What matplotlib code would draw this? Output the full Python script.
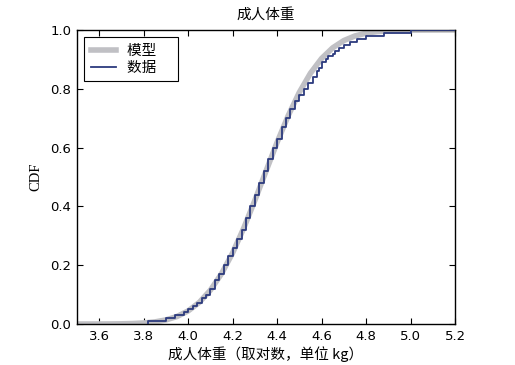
import numpy as np
import matplotlib
matplotlib.use("Agg")
import matplotlib.pyplot as plt

# Model CDF read at x = 3.50, 3.55, ..., 5.20
model_x = [3.50, 3.55, 3.60, 3.65, 3.70, 3.75, 3.80, 3.85, 3.90, 3.95,
           4.00, 4.05, 4.10, 4.15, 4.20, 4.25, 4.30, 4.35, 4.40, 4.45,
           4.50, 4.55, 4.60, 4.65, 4.70, 4.75, 4.80, 4.85, 4.90, 4.95,
           5.00, 5.05, 5.10, 5.15, 5.20]
model_cdf = [0.0000, 0.0000, 0.0001, 0.0003, 0.0007, 0.0016, 0.0035, 0.0071,
             0.0139, 0.0256, 0.0446, 0.0735, 0.1151, 0.1711, 0.2420, 0.3264,
             0.4207, 0.5199, 0.6179, 0.7088, 0.7881, 0.8531, 0.9032, 0.9394,
             0.9641, 0.9798, 0.9893, 0.9946, 0.9974, 0.9989, 0.9995, 0.9998,
             0.9999, 1.0000, 1.0000]

# Sorted data values (log10 weight)
data_values = [3.82, 3.90, 3.94, 3.98, 4.00, 4.02, 4.04, 4.06, 4.06, 4.08,
               4.10, 4.10, 4.12, 4.12, 4.12, 4.14, 4.14, 4.16, 4.16, 4.16,
               4.18, 4.18, 4.18, 4.20, 4.20, 4.20, 4.22, 4.22, 4.22, 4.24,
               4.24, 4.24, 4.26, 4.26, 4.26, 4.26, 4.28, 4.28, 4.28, 4.28,
               4.30, 4.30, 4.30, 4.30, 4.32, 4.32, 4.32, 4.32, 4.34, 4.34,
               4.34, 4.34, 4.36, 4.36, 4.36, 4.36, 4.38, 4.38, 4.38, 4.38,
               4.40, 4.40, 4.40, 4.42, 4.42, 4.42, 4.42, 4.44, 4.44, 4.44,
               4.46, 4.46, 4.46, 4.48, 4.48, 4.48, 4.50, 4.50,
               4.52, 4.52, 4.54, 4.54, 4.56, 4.56, 4.58, 4.58,
               4.59, 4.60, 4.60, 4.62, 4.63, 4.65, 4.66, 4.68, 4.70, 4.73,
               4.76, 4.80, 4.88, 5.00]

x_ticks = [3.6, 3.8, 4.0, 4.2, 4.4, 4.6, 4.8, 5.0, 5.2]
y_ticks = [0.0, 0.2, 0.4, 0.6, 0.8, 1.0]

cjk = ['Noto Sans CJK SC', 'DejaVu Sans']

fig = plt.figure(figsize=(5.15, 3.65), dpi=100)
ax = fig.add_axes([0.1495, 0.1123, 0.7340, 0.8055])

ax.plot(model_x, model_cdf, color='#c0c0c4', lw=4, label='模型', zorder=2)

xs = np.sort(np.array(data_values))
n = len(xs)
ys = np.arange(1, n + 1) / n
step_x = np.concatenate([[xs[0]], xs, [5.2]])
step_y = np.concatenate([[0.0], ys, [1.0]])
ax.step(step_x, step_y, where='post', color='#2c3a7e', lw=1.3, label='数据', zorder=3)

ax.set_xlim(3.5, 5.2)
ax.set_ylim(0, 1.0)
ax.set_xticks(x_ticks)
ax.set_yticks(y_ticks)
ax.set_xticklabels([f"{t:.1f}" for t in x_ticks], fontsize=9.5)
ax.set_yticklabels([f"{t:.1f}" for t in y_ticks], fontsize=9.5)
ax.tick_params(direction='in', top=True, right=True, length=4, width=0.8, pad=4)
for s in ax.spines.values():
    s.set_linewidth(1.0)

ax.set_title('成人体重', fontsize=10.5, family=cjk, pad=8)
ax.set_xlabel('成人体重（取对数，单位 kg）', fontsize=10.5, family=cjk, labelpad=3)
ax.set_ylabel('CDF', fontsize=10.5, family='Liberation Serif', labelpad=6)

leg = ax.legend(loc='upper left', prop={'family': cjk, 'size': 10.5},
                fancybox=False, framealpha=1, edgecolor='black',
                handlelength=1.7, handletextpad=0.8, borderaxespad=0.5,
                labelspacing=0.2, borderpad=0.45)
leg.get_frame().set_linewidth(0.8)
# widen the frame on the right like the reference
for t in leg.get_texts():
    t.set_text(t.get_text() + '\u3000')

fig.savefig('out.png', dpi=100)
